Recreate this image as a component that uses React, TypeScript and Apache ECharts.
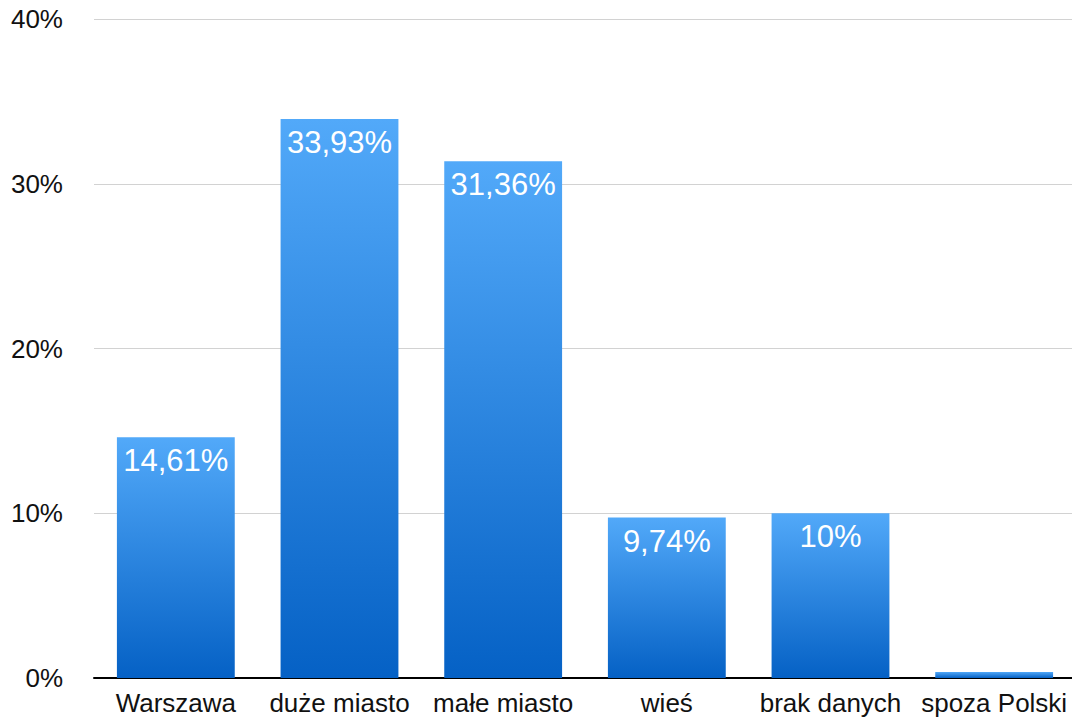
import React, { useEffect, useRef } from "react";
import * as echarts from "echarts";

const categories = ["Warszawa", "duże miasto", "małe miasto", "wieś", "brak danych", "spoza Polski"];
const values = [14.61, 33.93, 31.36, 9.74, 10, 0.37];
const valueLabels = ["14,61%", "33,93%", "31,36%", "9,74%", "10%", ""];
const yTicks = [0, 10, 20, 30, 40];

export default function App() {
  const ref = useRef<HTMLDivElement>(null);
  useEffect(() => {
    if (!ref.current) return;
    const chart = echarts.init(ref.current, null, { renderer: "svg" });
    chart.setOption({
      animation: false,
      grid: { left: 94, right: 4, top: 19, bottom: 41, containLabel: false },
      xAxis: {
        type: "category",
        data: categories,
        axisLine: { show: true, lineStyle: { color: "#000", width: 2 } },
        axisTick: { show: false },
        axisLabel: {
          color: "#111",
          fontSize: 26,
          fontFamily: "Liberation Sans, Arial, sans-serif",
          margin: 12,
          interval: 0,
        },
      },
      yAxis: {
        type: "value",
        min: 0,
        max: 40,
        interval: 10,
        axisLine: { show: false },
        axisTick: { show: false },
        splitLine: { lineStyle: { color: "#d2d2d2", width: 1 } },
        axisLabel: {
          color: "#111",
          fontSize: 26,
          fontFamily: "Liberation Sans, Arial, sans-serif",
          margin: 31,
          formatter: (v: number) => (yTicks.includes(v) ? v + "%" : ""),
        },
      },
      series: [
        {
          type: "bar",
          data: values,
          barWidth: "72%",
          itemStyle: {
            color: new echarts.graphic.LinearGradient(0, 0, 0, 1, [
              { offset: 0, color: "#52a9f9" },
              { offset: 1, color: "#0561c5" },
            ]),
          },
          label: {
            show: true,
            position: "insideTop",
            distance: 8,
            color: "#fff",
            fontSize: 31,
            fontFamily: "Liberation Sans, Arial, sans-serif",
            formatter: (p: any) => valueLabels[p.dataIndex],
          },
        },
      ],
    });
    return () => chart.dispose();
  }, []);
  return (
    <div
      style={{ position: "fixed", left: 0, top: 0, width: 1072, height: 719, overflow: "hidden", background: "#fff" }}
    >
      <div ref={ref} style={{ width: 1080, height: 719 }} />
    </div>
  );
}
